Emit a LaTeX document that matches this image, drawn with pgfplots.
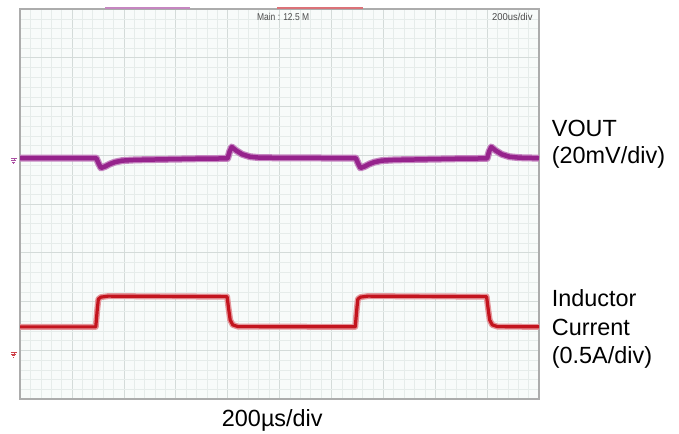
\documentclass[border=0pt]{standalone}
\usepackage{fontspec}
\setmainfont{Liberation Sans}
\usepackage{pgfplots}
\pgfplotsset{compat=1.18}
\usetikzlibrary{calc}
\definecolor{bgcol}{RGB}{248,251,250}
\definecolor{minorcol}{RGB}{230,236,234}
\definecolor{majorcol}{RGB}{212,219,217}
\definecolor{framecol}{RGB}{172,172,172}
\definecolor{voutcol}{RGB}{150,35,140}
\definecolor{ilcol}{RGB}{195,20,30}

\begin{document}
\begin{tikzpicture}[x=1bp,y=1bp]
\begin{axis}[
  name=ax,
  at={(0,0)}, anchor=south west,
  width=519bp, height=390bp, scale only axis,
  xmin=0, xmax=10, ymin=0, ymax=8,
  xtick={0,...,10}, ytick={0,...,8},
  minor x tick num=4, minor y tick num=4,
  xticklabels={}, yticklabels={},
  major tick length=0pt, minor tick length=0pt,
  grid=both,
  major grid style={majorcol, line width=0.6bp},
  minor grid style={minorcol, line width=0.5bp},
  axis background/.style={fill=bgcol},
  axis line style={framecol, line width=1.3bp},
  clip=false,
]
% VOUT, 20mV/div
\addplot[voutcol!55, line width=7bp, line join=round] coordinates {
  (0,4.94) (1.47,4.94) (1.52,4.82) (1.56,4.74) (1.64,4.77) (1.73,4.82)
  (1.83,4.86) (1.97,4.89) (2.22,4.905) (2.70,4.915) (3.47,4.93) (4.00,4.935)
  (4.04,5.08) (4.08,5.17) (4.16,5.10) (4.28,5.02) (4.43,4.97) (4.62,4.95)
  (6.47,4.94) (6.52,4.82) (6.56,4.74) (6.64,4.77) (6.73,4.82)
  (6.83,4.86) (6.97,4.89) (7.22,4.905) (7.70,4.915) (8.47,4.93) (9.00,4.935)
  (9.04,5.08) (9.08,5.17) (9.16,5.10) (9.28,5.02) (9.43,4.97) (9.62,4.95)
  (10,4.94)};
\addplot[voutcol, line width=4.5bp, line join=round] coordinates {
  (0,4.94) (1.47,4.94) (1.52,4.82) (1.56,4.74) (1.64,4.77) (1.73,4.82)
  (1.83,4.86) (1.97,4.89) (2.22,4.905) (2.70,4.915) (3.47,4.93) (4.00,4.935)
  (4.04,5.08) (4.08,5.17) (4.16,5.10) (4.28,5.02) (4.43,4.97) (4.62,4.95)
  (6.47,4.94) (6.52,4.82) (6.56,4.74) (6.64,4.77) (6.73,4.82)
  (6.83,4.86) (6.97,4.89) (7.22,4.905) (7.70,4.915) (8.47,4.93) (9.00,4.935)
  (9.04,5.08) (9.08,5.17) (9.16,5.10) (9.28,5.02) (9.43,4.97) (9.62,4.95)
  (10,4.94)};
% inductor current, 0.5A/div
\addplot[ilcol!45, line width=6bp, line join=round] coordinates {
  (0,1.48) (1.46,1.48) (1.49,1.85) (1.51,2.05) (1.56,2.09) (1.70,2.11)
  (3.99,2.10) (4.02,1.85) (4.05,1.62) (4.10,1.52) (4.20,1.485)
  (6.46,1.48) (6.49,1.85) (6.51,2.05) (6.56,2.09) (6.70,2.11)
  (8.99,2.10) (9.02,1.85) (9.05,1.62) (9.10,1.52) (9.20,1.485) (10,1.48)};
\addplot[ilcol, line width=3.2bp, line join=round] coordinates {
  (0,1.48) (1.46,1.48) (1.49,1.85) (1.51,2.05) (1.56,2.09) (1.70,2.11)
  (3.99,2.10) (4.02,1.85) (4.05,1.62) (4.10,1.52) (4.20,1.485)
  (6.46,1.48) (6.49,1.85) (6.51,2.05) (6.56,2.09) (6.70,2.11)
  (8.99,2.10) (9.02,1.85) (9.05,1.62) (9.10,1.52) (9.20,1.485) (10,1.48)};
% record bar on the top edge
\draw[voutcol!55, line width=1.2bp] ($(axis cs:1.64,8)+(0,1bp)$) -- ($(axis cs:3.28,8)+(0,1bp)$);
\draw[ilcol!60, line width=1.2bp] ($(axis cs:4.95,8)+(0,1bp)$) -- ($(axis cs:6.61,8)+(0,1bp)$);
% scope labels
\node[font=\fontsize{10}{11}\selectfont, text=black!70, anchor=base, xscale=0.85, inner sep=0pt]
  at (axis cs:5.07,7.77) {Main : 12.5 M};
\node[font=\fontsize{10}{11}\selectfont, text=black!70, anchor=base east, xscale=0.95, inner sep=0pt]
  at (axis cs:9.88,7.77) {200us/div};
% ground markers
\draw[voutcol!80, line width=0.6bp]
  ($(axis cs:0,4.89)+(-9bp,2bp)$) -- ++(6bp,0)
  ($(axis cs:0,4.89)+(-6bp,2bp)$) -- ++(0,-2bp)
  ($(axis cs:0,4.89)+(-8.5bp,0bp)$) -- ++(5bp,0)
  ($(axis cs:0,4.89)+(-7.5bp,-1.5bp)$) -- ++(3bp,0)
  ($(axis cs:0,4.89)+(-6.5bp,-3bp)$) -- ++(1bp,0);
\draw[ilcol!80, line width=0.6bp]
  ($(axis cs:0,0.92)+(-9bp,2bp)$) -- ++(6bp,0)
  ($(axis cs:0,0.92)+(-6bp,2bp)$) -- ++(0,-2bp)
  ($(axis cs:0,0.92)+(-8.5bp,0bp)$) -- ++(5bp,0)
  ($(axis cs:0,0.92)+(-7.5bp,-1.5bp)$) -- ++(3bp,0)
  ($(axis cs:0,0.92)+(-6.5bp,-3bp)$) -- ++(1bp,0);
\end{axis}
\begin{scope}[every node/.style={font=\fontsize{23.5}{27}\selectfont, inner sep=0pt, anchor=base west}]
\node at ($(ax.south west)+(531.7bp,262.3bp)$) {VOUT};
\node at ($(ax.south west)+(531.7bp,235.5bp)$) {(20mV/div)};
\node at ($(ax.south west)+(531.7bp,92.3bp)$) {Inductor};
\node at ($(ax.south west)+(531.7bp,63.3bp)$) {Current};
\node at ($(ax.south west)+(531.7bp,36bp)$) {(0.5A/div)};
\node[anchor=base] at ($(ax.south west)+(252.3bp,-27bp)$) {200µs/div};
\end{scope}
\pgfresetboundingbox
\path[use as bounding box] ($(ax.south west)+(-20bp,-35bp)$) rectangle ($(ax.south west)+(659bp,399bp)$);
\end{tikzpicture}
\end{document}
